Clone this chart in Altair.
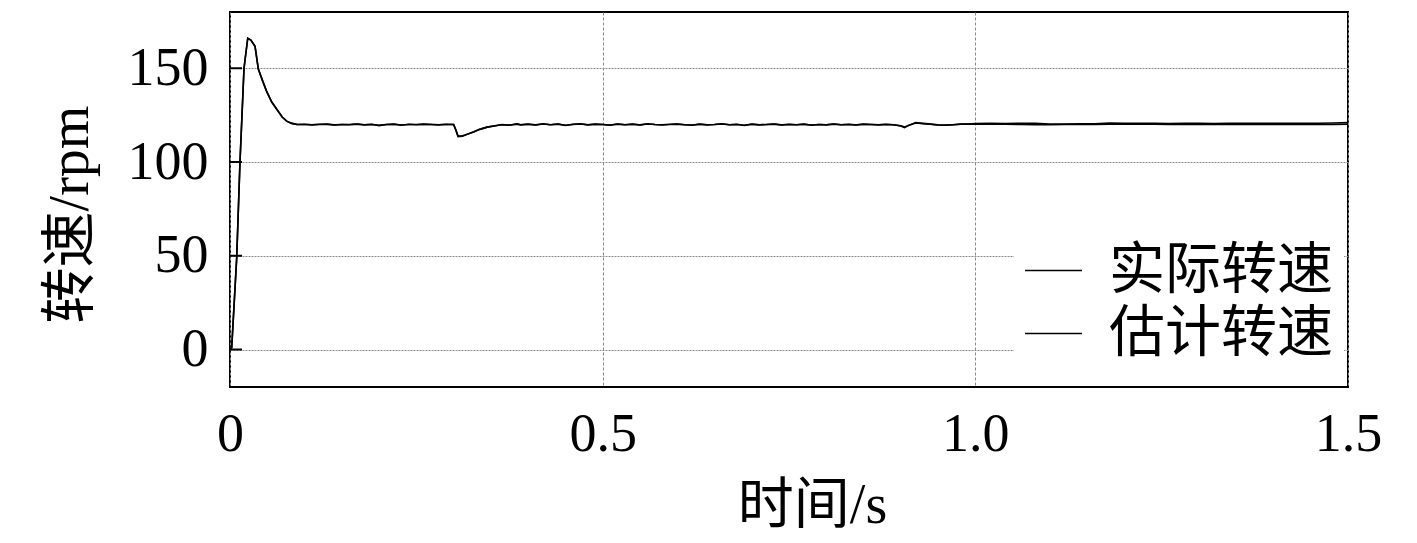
import altair as alt
import pandas as pd

# time axis (s)
t_values = [
    0.0, 0.0023, 0.009, 0.0134, 0.0188, 0.0238, 0.028, 0.0336, 0.038, 0.044, 0.049, 0.056, 0.063, 0.07, 0.076, 0.083, 0.09,
    0.10, 0.11, 0.12, 0.13, 0.14, 0.15, 0.16, 0.17, 0.18, 0.19, 0.20, 0.21, 0.22, 0.23, 0.24, 0.25, 0.26, 0.27, 0.28, 0.29,
    0.300, 0.303, 0.306, 0.312, 0.320, 0.327, 0.335, 0.345, 0.355, 0.365, 0.375, 0.385,
    0.39, 0.40, 0.41, 0.42, 0.43, 0.44, 0.45, 0.46, 0.47, 0.48, 0.49, 0.50, 0.51, 0.52, 0.53, 0.54, 0.55, 0.56, 0.57, 0.58,
    0.59, 0.60, 0.61, 0.62, 0.63, 0.64, 0.65, 0.66, 0.67, 0.68, 0.69, 0.70, 0.71, 0.72, 0.73, 0.74, 0.75, 0.76, 0.77, 0.78,
    0.79, 0.80, 0.81, 0.82, 0.83, 0.84, 0.85, 0.86, 0.87, 0.88, 0.89, 0.90, 0.905, 0.91, 0.92, 0.93, 0.94, 0.95, 0.96, 0.97,
    0.98, 0.99,
    1.00, 1.02, 1.04, 1.06, 1.08, 1.10, 1.12, 1.14, 1.16, 1.18, 1.20, 1.22, 1.24, 1.26, 1.28, 1.30, 1.32, 1.34, 1.36, 1.38,
    1.40, 1.42, 1.44, 1.46, 1.48, 1.50,
]

# actual speed (rpm)
actual_speed = [
    0.0, 1.0, 49.0, 100.0, 150.0, 166.0, 165.0, 161.7, 149.6, 143.0, 137.8, 132.0, 128.0, 124.0, 121.8, 120.6, 120.0,
    120.1, 119.8, 120.0, 120.2, 119.7, 120.0, 119.9, 120.3, 119.8, 120.1, 119.4, 120.0, 120.2, 119.6, 120.1, 119.9, 120.2, 120.0, 119.8, 120.1,
    120.0, 117.0, 113.5, 113.8, 115.0, 116.0, 117.4, 118.6, 119.2, 120.0, 119.6, 120.3,
    119.8, 120.2, 119.7, 120.4, 119.9, 120.3, 119.5, 120.1, 120.4, 119.8, 120.2, 120.0, 119.6, 120.3, 119.9, 120.2, 119.7, 120.4, 120.0, 119.8,
    120.1, 120.3, 119.9, 119.6, 120.2, 119.8, 120.0, 120.4, 119.9, 120.1, 119.5, 120.2, 119.8, 120.0, 120.3, 119.7, 120.1, 119.9, 120.2, 119.6,
    120.0, 119.8, 120.3, 119.9, 120.1, 119.7, 120.2, 120.0, 119.8, 120.1, 119.9, 119.2, 118.4, 119.4, 121.0, 120.6, 120.2, 119.7, 119.6, 119.9,
    120.2, 120.3,
    120.5, 120.6, 120.5, 120.7, 120.6, 120.3, 120.3, 120.4, 120.4, 120.8, 120.7, 120.6, 120.6, 120.5, 120.6, 120.6, 120.5, 120.6, 120.6, 120.7,
    120.7, 120.6, 120.7, 120.7, 120.8, 121.0,
]

# estimated speed (rpm)
estimated_speed = [
    0.0, 1.0, 49.0, 100.0, 150.0, 166.0, 165.0, 161.7, 149.6, 143.0, 137.8, 132.0, 128.0, 124.0, 121.8, 120.6, 120.0,
    120.0, 119.9, 120.1, 120.1, 119.8, 120.0, 120.0, 120.2, 119.9, 120.0, 119.6, 120.0, 120.1, 119.7, 120.0, 120.0, 120.1, 120.0, 119.9, 120.0,
    120.0, 117.2, 113.8, 114.0, 115.1, 116.1, 117.4, 118.6, 119.3, 119.9, 119.7, 120.2,
    119.9, 120.1, 119.8, 120.3, 119.9, 120.2, 119.6, 120.0, 120.3, 119.9, 120.1, 120.0, 119.7, 120.2, 119.9, 120.1, 119.8, 120.3, 120.0, 119.9,
    120.0, 120.2, 119.9, 119.7, 120.1, 119.9, 120.0, 120.3, 119.9, 120.0, 119.6, 120.1, 119.9, 120.0, 120.2, 119.8, 120.0, 119.9, 120.1, 119.7,
    120.0, 119.9, 120.2, 119.9, 120.0, 119.8, 120.1, 120.0, 119.9, 120.0, 119.9, 119.3, 118.6, 119.5, 120.8, 120.4, 120.1, 119.8, 119.7, 119.9,
    120.1, 120.2,
    120.3, 120.2, 120.1, 120.0, 119.9, 119.9, 120.0, 120.1, 120.0, 120.2, 120.3, 120.2, 120.1, 120.0, 120.0, 120.1, 120.0, 120.1, 120.0, 120.0,
    120.1, 120.0, 120.0, 120.1, 120.0, 120.1,
]

series_names = ["实际转速", "估计转速"]
y_ticks = [0, 50, 100, 150]
x_ticks = [0, 0.5, 1.0, 1.5]

rows = []
for t, a, e in zip(t_values, actual_speed, estimated_speed):
    rows.append({"t": t, "v": a, "s": series_names[0]})
    rows.append({"t": t, "v": e, "s": series_names[1]})
df = pd.DataFrame(rows)

FONT = "Liberation Serif, Times New Roman, Noto Sans CJK SC"

x_scale = alt.Scale(domain=[0, 1.5], nice=False, zero=False)
y_scale = alt.Scale(domain=[-20, 180], nice=False, zero=False)

lines = alt.Chart(df).mark_line(strokeWidth=1.6, clip=True).encode(
    x=alt.X("t:Q", scale=x_scale,
            axis=alt.Axis(title="时间/s", values=x_ticks, ticks=False, domain=False, labelFlush=False,
                          labelExpr="datum.value == 0 ? '0' : format(datum.value, '.1f')",
                          labelFontSize=54, labelFont=FONT, labelColor="black", labelPadding=20,
                          titleFontSize=56, titleFont=FONT, titleColor="black", titleFontWeight="normal",
                          titlePadding=17, titleX=582,
                          grid=True, gridColor="#8a8a8a", gridDash=[3, 2], gridWidth=1)),
    y=alt.Y("v:Q", scale=y_scale,
            axis=alt.Axis(title="转速/rpm", values=y_ticks, ticks=False, domain=False,
                          labelFontSize=54, labelFont=FONT, labelColor="black", labelPadding=22,
                          titleFontSize=56, titleFont=FONT, titleColor="black", titleFontWeight="normal",
                          titlePadding=28, titleY=202,
                          grid=True, gridColor="#8a8a8a", gridDash=[2, 1], gridWidth=1)),
    color=alt.Color("s:N", scale=alt.Scale(domain=series_names, range=["black", "black"]),
                    legend=alt.Legend(title=None, orient="none", legendX=784, legendY=219,
                                      symbolType="stroke", symbolSize=3249, symbolStrokeWidth=1.5,
                                      labelFontSize=56, labelFont=FONT, labelColor="black",
                                      labelOffset=26, rowPadding=5, padding=10,
                                      fillColor="white", strokeColor="white", labelLimit=400)),
    detail="s:N",
)

tick_df = pd.DataFrame({"y": y_ticks})
ticks = alt.Chart(tick_df).mark_rule(color="black", strokeWidth=2).encode(
    y=alt.Y("y:Q", scale=y_scale),
    x=alt.value(0),
    x2=alt.value(12),
)

chart = alt.layer(lines, ticks).properties(
    width=1118, height=375,
    background="white",
    autosize=alt.AutoSizeParams(type="none"),
    padding={"left": 222, "top": 4, "right": 50, "bottom": 150},
).configure_view(stroke="black", strokeWidth=2)

chart.save("out.html", embed_options={"renderer": "svg", "actions": False})
